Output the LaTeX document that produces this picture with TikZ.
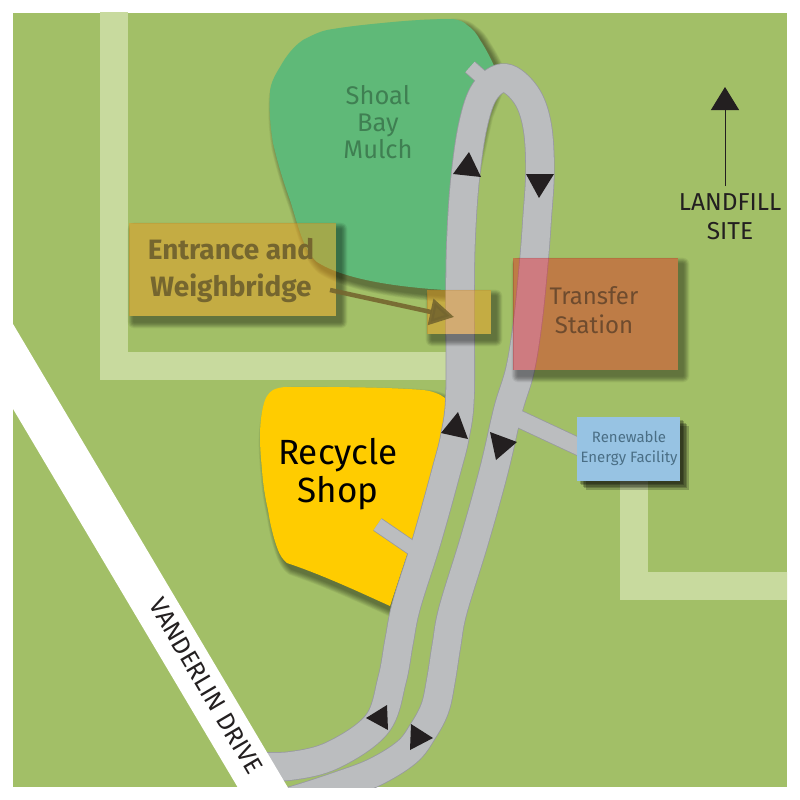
\documentclass[tikz,border=0pt]{standalone}
\usepackage{fontspec}
\setmainfont{Fira Sans}
\usetikzlibrary{%
  arrows.meta,
  calc
}
\definecolor{grassgreen}{HTML}{A2BF67}
\definecolor{palepath}{HTML}{C8DA9E}
\definecolor{mulchgreen}{HTML}{5FB978}
\definecolor{shopyellow}{HTML}{FFCC00}
\definecolor{roadgrey}{HTML}{BBBDBF}
\definecolor{roadedge}{HTML}{989AA0}
\definecolor{tipblack}{HTML}{231F20}
\definecolor{entrancetint}{HTML}{EC971C}
\definecolor{transfertint}{HTML}{F3000B}
\definecolor{energyblue}{HTML}{97C3E3}
\definecolor{entrancetext}{HTML}{75662F}
\definecolor{transfertext}{HTML}{6E4B2E}
\definecolor{mulchtext}{HTML}{3F7F52}
\definecolor{energytext}{HTML}{4A6E85}
\tikzset{
  tip/.style={fill=tipblack},
  pale/.style={draw=palepath, line width=28, line join=miter},
  roadout/.style={draw=roadedge, line width=29.4},
  roadin/.style={draw=roadgrey, line width=27.8},
  tintbox/.style={fill=#1, fill opacity=.47, text opacity=1, inner sep=0pt, anchor=north west},
  label/.style={align=center, inner sep=0pt}
}
\newcommand{\shoalpath}{(270,93) .. controls (270,84) and (275,75) .. (280,67)
  .. controls (286,56) and (294,46) .. (303,40)
  .. controls (311,36) and (318,32) .. (327,30)
  .. controls (350,26) and (372,24) .. (393,22)
  .. controls (415,20) and (435,19) .. (453,19)
  .. controls (460,20) and (464,22) .. (467,25)
  .. controls (473,29) and (477,34) .. (480,40)
  .. controls (486,49) and (490,57) .. (497,72) -- (482,110) -- (462,200) -- (462,291)
  .. controls (400,288) and (345,280) .. (317,262)
  .. controls (303,250) and (298,225) .. (290,200)
  .. controls (282,178) and (277,160) .. (273,143)
  .. controls (270,125) and (269,108) .. (270,93) -- cycle}
\newcommand{\shoppath}{(260,437) .. controls (260,425) and (261,416) .. (263,407)
  .. controls (265,398) and (268,393) .. (273,390)
  .. controls (277,388) and (282,387) .. (287,387)
  .. controls (335,387) and (385,387) .. (423,390)
  .. controls (432,391) and (440,394) .. (445,398) -- (455,410) -- (390,606)
  .. controls (355,590) and (320,574) .. (287,563)
  .. controls (283,560) and (280,555) .. (278,550)
  .. controls (273,537) and (270,523) .. (268,510)
  .. controls (265,497) and (263,484) .. (262,470)
  .. controls (261,459) and (260,448) .. (260,437) -- cycle}
\newcommand{\roadpath}{plot[smooth, tension=.6] coordinates {(250,766) (290,766) (333,755) (377,724)
  (392,680) (399,642) (406.5,605) (427,540) (446.5,470) (455,436) (460,395) (460,300) (461,240)
  (465,180) (473,125) (485,91) (505,78) (526,95) (537,125) (540,170) (537,220)
  (534,260) (528,320) (520,370) (508,410) (494,470) (474.5,540) (453,610) (446.5,645)
  (441,680) (435,708) (423,731) (407,752) (375,772) (338,786) (295,800) (270,806)}}
\newcommand{\softshadow}[1]{%
  \foreach \w in {1,...,9} {
    \begin{scope}[transparency group, opacity=.05]
      \path[fill=black, draw=black, line width=\w*1.4, line join=round, shift={(5,6)}] #1;
    \end{scope}
  }
}
\begin{document}
\begin{tikzpicture}[x=1pt, y=-1pt]
  \useasboundingbox (0,0) rectangle (800,800);
  \fill[white] (0,0) rectangle (800,800);
  \clip (13,13) rectangle (787,787);
  \fill[grassgreen] (13,13) rectangle (787,787);

  \draw[pale] (114,0) -- (114,366) -- (460,366);
  \draw[pale] (634,470) -- (634,586) -- (800,586);

  \softshadow{\shoalpath}
  \fill[mulchgreen] \shoalpath;
  \softshadow{\shoppath}
  \fill[shopyellow] \shoppath;

  \draw[roadout, line width=15] (470,67) -- (487,82);
  \draw[roadout, line width=15] (377.5,524.5) -- (425,557);
  \draw[roadout, line width=18] (515,417) -- (590,452);
  \path[roadout] \roadpath;
  \draw[roadin, line width=13.4] (470,67) -- (487,82);
  \draw[roadin, line width=13.4] (377.5,524.5) -- (425,557);
  \draw[roadin, line width=16.4] (515,417) -- (590,452);
  \path[roadin] \roadpath;

  \fill[white] (0,302) -- (300,808) -- (250,808) -- (0,387) -- cycle;
  \node[label, rotate=-59.6, font=\fontsize{25}{25}\selectfont, text=tipblack] (drive) at (206,686) {VANDERLIN DRIVE};

  \fill[tip] (469,152) -- (453,174) -- (481,177) -- cycle;
  \fill[tip] (526,174) -- (554,174) -- (539,198) -- cycle;
  \fill[tip] (458,412) -- (441,433) -- (468,439) -- cycle;
  \fill[tip] (490,432) -- (517,442) -- (496,460) -- cycle;
  \fill[tip] (387,705) -- (366,718) -- (388,730) -- cycle;
  \fill[tip] (411,724) -- (433,738) -- (410,750) -- cycle;

  \begin{scope}[even odd rule]
    \clip (0,0) rectangle (800,800) (129,223) rectangle (336,316)
      (427,290) rectangle (491,334) (513,258) rectangle (678,370);
    \softshadow{(129,223) rectangle (336,316)}
    \softshadow{(427,290) rectangle (491,334)}
    \softshadow{(513,258) rectangle (678,370)}
  \end{scope}
  \foreach \w in {1,...,5} {
    \fill[black, opacity=.2] ($(577,417)+(\w*1.5+1,\w*1.5+1)$) rectangle ($(680,481)+(\w*1.5+1,\w*1.5+1)$);
  }

  \node[tintbox=entrancetint, minimum width=207, minimum height=93] (entrance) at (129,223) {};
  \node[tintbox=entrancetint, minimum width=64, minimum height=44] (scale) at (427,290) {};
  \node[tintbox=transfertint, fill opacity=.35, minimum width=165, minimum height=112] (transfer) at (513,258) {};
  \node[fill=energyblue, inner sep=0pt, anchor=north west, minimum width=103, minimum height=64] (energy) at (577,417) {};

  \coordinate (pointertail) at (330,290);
  \coordinate (pointertip) at (454,317);
  \draw[-{Triangle[length=24, width=26]}, draw=entrancetext, line width=4.5, opacity=.9] (pointertail) -- (pointertip);

  \coordinate (landfilltail) at (725,186);
  \coordinate (landfilltip) at (725,87);
  \draw[-{Triangle[length=23, width=28]}, color=tipblack, line width=1] (landfilltail) -- (landfilltip);

  \node[label, font=\fontsize{25.5}{27}\selectfont, text=mulchtext] (mulchlabel) at (378,122) {Shoal\\Bay\\Mulch};
  \node[label, font=\fontsize{28}{37}\selectfont\bfseries, text=entrancetext] (entrancelabel) at (231,270) {Entrance and\\Weighbridge};
  \node[label, font=\fontsize{24}{29}\selectfont, text=transfertext] (transferlabel) at (594,310) {Transfer\\Station};
  \node[label, font=\fontsize{15}{20}\selectfont, text=energytext] (energylabel) at (629,448) {Renewable\\Energy Facility};
  \node[label, font=\fontsize{35}{38}\selectfont, text=black] (shoplabel) at (338,474) {Recycle\\Shop};
  \node[label, font=\fontsize{24.5}{29}\selectfont, text=tipblack] (landfilllabel) at (730,217) {LANDFILL\\SITE};
\end{tikzpicture}
\end{document}
